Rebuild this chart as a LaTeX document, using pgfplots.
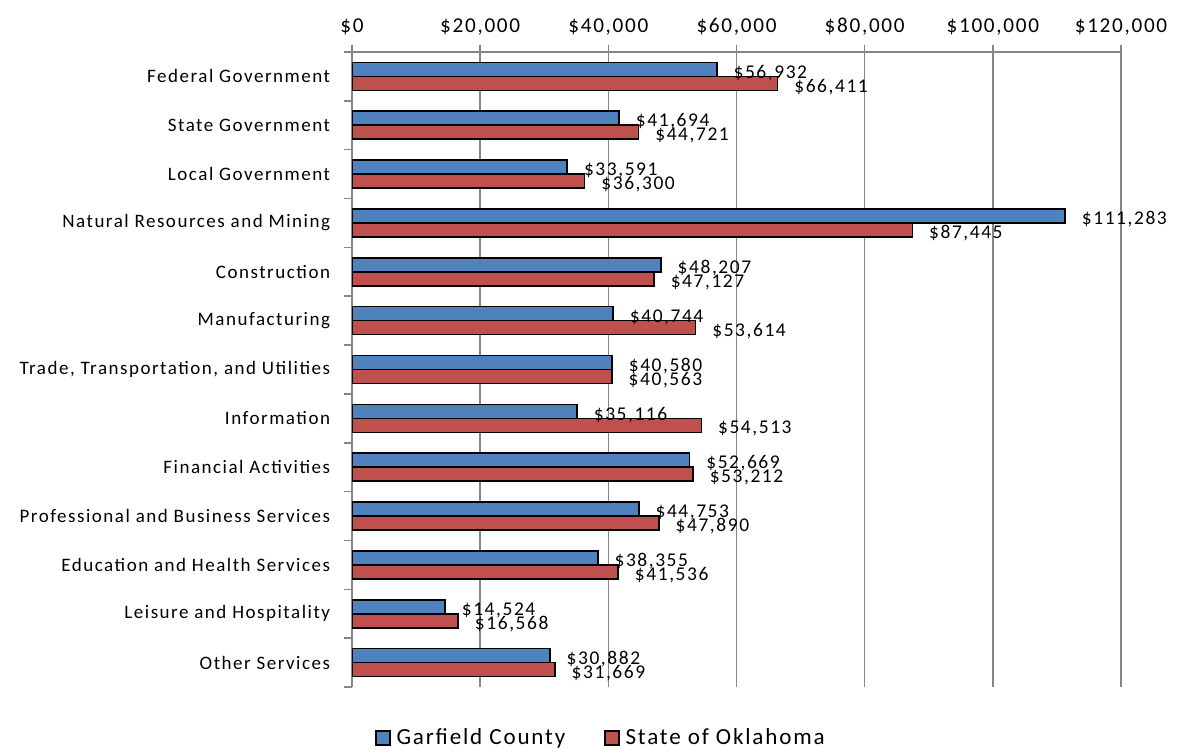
\documentclass[border=0pt]{standalone}
\usepackage{pgfplots}
\pgfplotsset{compat=1.18}
\usepackage{fontspec}
\setmainfont{Carlito}[LetterSpace=8]
\definecolor{cblue}{HTML}{4F81BD}
\definecolor{cred}{HTML}{C0504D}
\definecolor{gridgray}{RGB}{134,134,134}
\begin{document}
\begin{tikzpicture}
\useasboundingbox (0,0) rectangle (888pt,564pt);
\begin{axis}[
  at={(264pt,48.75pt)}, anchor=south west,
  scale only axis, width=576.75pt, height=476.25pt,
  xbar=0pt, bar width=10.5pt,
  y dir=reverse,
  xmin=0, xmax=120000, ymin=-0.5, ymax=12.5,
  scaled x ticks=false,
  axis x line*=top, axis y line*=left,
  axis line style={draw=gridgray, line width=1.2pt},
  xmajorgrids=true,
  grid style={draw=gridgray, line width=1.2pt},
  xtick={0,20000,40000,60000,80000,100000,120000},
  xticklabels={{\$0},{\$20,000},{\$40,000},{\$60,000},{\$80,000},{\$100,000},{\$120,000}},
  xticklabel style={font=\fontsize{15.9}{18}\selectfont, yshift=4pt},
  ytick={0,...,12},
  yticklabels={Federal Government,State Government,Local Government,Natural Resources and Mining,Construction,Manufacturing,{Trade, Transportation, and Utilities},Information,Financial Activities,Professional and Business Services,Education and Health Services,Leisure and Hospitality,Other Services},
  yticklabel style={font=\fontsize{14.25}{17}\selectfont, inner sep=0pt, xshift=-11pt},
  minor ytick={-0.5,0.5,...,12.5},
  tick align=outside,
  major tick length=5.25pt, minor tick length=6pt,
  tick style={draw=gridgray, line width=1.2pt},
  major y tick style={draw=none},
  /pgf/number format/assume math mode=true,
  /pgf/number format/.cd, fixed, precision=0, 1000 sep={,}, /pgfplots/.cd,
  point meta=x,
  nodes near coords={\$\pgfmathprintnumber{\pgfplotspointmeta}},
  every node near coord/.append style={font=\fontsize{14.6}{17}\selectfont, anchor=west, inner sep=0pt, xshift=12pt, yshift=-2.5pt, text=black},
  legend style={draw=none, at={(0.324,-0.080)}, anchor=center, legend columns=2,
    font=\fontsize{17.3}{20}\selectfont,
    /tikz/every even column/.append style={column sep=27pt}},
  legend image code/.code={\draw[#1] (0pt,-5.25pt) rectangle (10.5pt,5.25pt); \path (13pt,0pt);},
]
\addplot[fill=cblue, draw=black, line width=1.2pt, bar shift=5.25pt] coordinates {
(56932,0) (41694,1) (33591,2) (111283,3) (48207,4) (40744,5) (40580,6) (35116,7) (52669,8) (44753,9) (38355,10) (14524,11) (30882,12)};
\addplot[fill=cred, draw=black, line width=1.2pt, bar shift=-5.25pt] coordinates {
(66411,0) (44721,1) (36300,2) (87445,3) (47127,4) (53614,5) (40563,6) (54513,7) (53212,8) (47890,9) (41536,10) (16568,11) (31669,12)};
\legend{Garfield County, State of Oklahoma}
\end{axis}
\end{tikzpicture}
\end{document}
